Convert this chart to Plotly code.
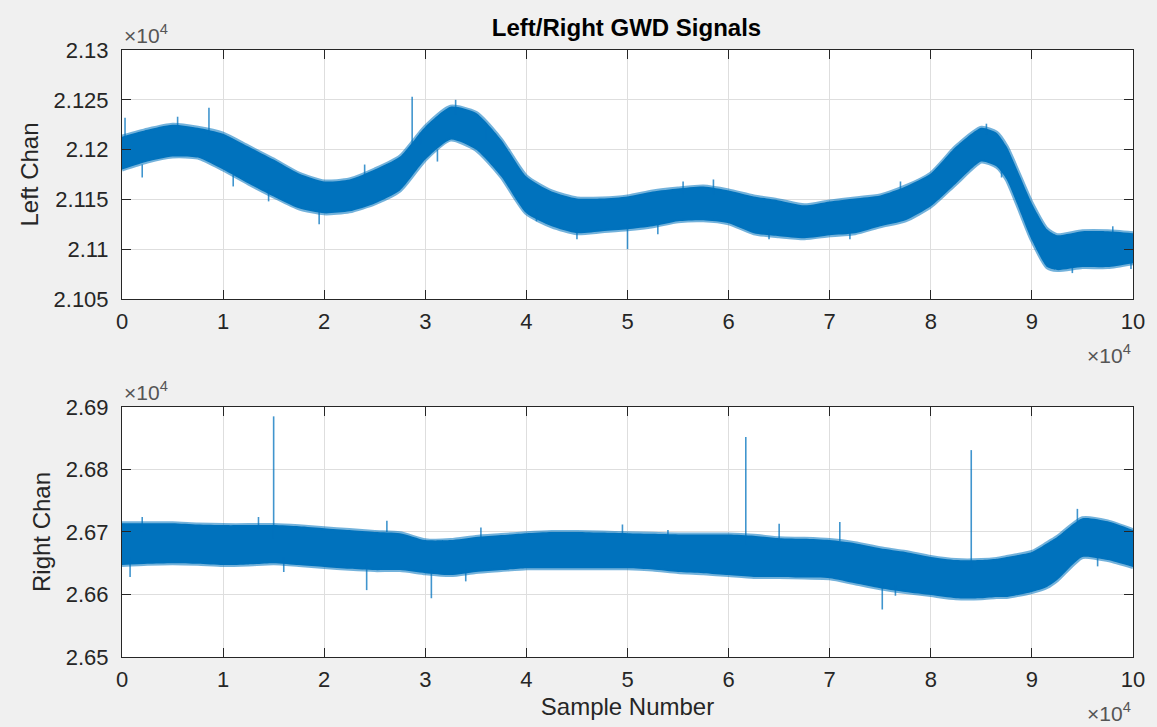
import plotly.graph_objects as go

# ---------------- data (values in units of 1e4) ----------------
sample_x = [0, 0.25, 0.5, 0.75, 1.0, 1.25, 1.5, 1.75, 2.0, 2.25, 2.5, 2.75, 3.0, 3.25, 3.5,
            3.75, 4.0, 4.25, 4.5, 4.75, 5.0, 5.25, 5.5, 5.75, 6.0, 6.25, 6.5, 6.75, 7.0,
            7.25, 7.5, 7.75, 8.0, 8.25, 8.5, 8.65, 8.75, 9.0, 9.15, 9.25, 9.5, 9.75, 10.0]

left_upper = [2.1213, 2.1220, 2.1225, 2.1222, 2.1216, 2.1203, 2.1190, 2.1176, 2.1168, 2.1170,
              2.1180, 2.1193, 2.1223, 2.1243, 2.1237, 2.1210, 2.1173, 2.1158, 2.1151, 2.1151,
              2.1153, 2.1158, 2.1161, 2.1163, 2.1159, 2.1153, 2.1149, 2.1144, 2.1148, 2.1151,
              2.1154, 2.1163, 2.1176, 2.1203, 2.1222, 2.1217, 2.1203, 2.1146, 2.1120, 2.1114,
              2.1118, 2.1118, 2.1116]
left_lower = [2.1180, 2.1188, 2.1193, 2.1192, 2.1180, 2.1166, 2.1153, 2.1141, 2.1136, 2.1138,
              2.1146, 2.1159, 2.1190, 2.1210, 2.1200, 2.1173, 2.1136, 2.1123, 2.1116, 2.1118,
              2.1120, 2.1123, 2.1128, 2.1129, 2.1126, 2.1116, 2.1113, 2.1111, 2.1114, 2.1116,
              2.1123, 2.1129, 2.1143, 2.1166, 2.1188, 2.1183, 2.1170, 2.1109, 2.1082, 2.1079,
              2.1082, 2.1082, 2.1086]

right_upper = [2.6714, 2.6714, 2.6714, 2.6712, 2.6711, 2.6711, 2.6711, 2.6709, 2.6706, 2.6703,
               2.6700, 2.6698, 2.6687, 2.6687, 2.6692, 2.6695, 2.6698, 2.6700, 2.6700, 2.6699,
               2.6698, 2.6697, 2.6696, 2.6696, 2.6696, 2.6694, 2.6690, 2.6689, 2.6687, 2.6682,
               2.6674, 2.6668, 2.6660, 2.6655, 2.6655, 2.6657, 2.6660, 2.6668, 2.6682, 2.6692,
               2.6722, 2.6717, 2.6703]
right_lower = [2.6647, 2.6649, 2.6650, 2.6649, 2.6647, 2.6648, 2.6650, 2.6647, 2.6644, 2.6641,
               2.6639, 2.6639, 2.6634, 2.6631, 2.6636, 2.6639, 2.6642, 2.6642, 2.6642, 2.6642,
               2.6642, 2.6640, 2.6636, 2.6634, 2.6631, 2.6628, 2.6628, 2.6627, 2.6626, 2.6618,
               2.6610, 2.6604, 2.6599, 2.6594, 2.6594, 2.6596, 2.6596, 2.6604, 2.6612, 2.6623,
               2.6660, 2.6655, 2.6644]

# isolated spikes: x position, start value, end value
left_spike_x  = [0.03, 0.2, 0.55, 0.86, 1.1, 1.45, 1.95, 2.4, 2.87, 2.95, 3.12, 3.3, 3.6,
                 4.1, 4.5, 5.0, 5.3, 5.55, 5.85, 6.4, 7.2, 7.7, 8.55, 8.7, 9.4, 9.8, 9.98]
left_spike_y0 = [2.1210, 2.1185, 2.1220, 2.1215, 2.1175, 2.1160, 2.1140, 2.1170, 2.1205,
                 2.1205, 2.1200, 2.1235, 2.1210, 2.1140, 2.1120, 2.1125, 2.1125, 2.1155,
                 2.1155, 2.1120, 2.1120, 2.1160, 2.1215, 2.1180, 2.1085, 2.1110, 2.1090]
left_spike_y1 = [2.1232, 2.1172, 2.1233, 2.1242, 2.1163, 2.1148, 2.1125, 2.1185, 2.1253,
                 2.1217, 2.1188, 2.1250, 2.1222, 2.1128, 2.1110, 2.1100, 2.1115, 2.1168,
                 2.1170, 2.1110, 2.1110, 2.1168, 2.1226, 2.1172, 2.1076, 2.1123, 2.1080]

right_spike_x  = [0.08, 0.2, 1.35, 1.5, 1.6, 2.42, 2.62, 3.06, 3.4, 3.55, 4.95, 5.4, 6.17,
                  6.5, 7.1, 7.52, 7.65, 8.4, 9.45, 9.65]
right_spike_y0 = [2.6660, 2.6700, 2.6705, 2.6690, 2.6660, 2.6650, 2.6700, 2.6640, 2.6640,
                  2.6690, 2.6690, 2.6690, 2.6680, 2.6685, 2.6685, 2.6620, 2.6615, 2.6640,
                  2.6715, 2.6660]
right_spike_y1 = [2.6628, 2.6724, 2.6724, 2.6885, 2.6636, 2.6607, 2.6718, 2.6594, 2.6621,
                  2.6707, 2.6712, 2.6703, 2.6852, 2.6713, 2.6716, 2.6576, 2.6598, 2.6831,
                  2.6737, 2.6645]

x_ticks = [0, 1, 2, 3, 4, 5, 6, 7, 8, 9, 10]
left_ticks = [2.105, 2.11, 2.115, 2.12, 2.125, 2.13]
left_tick_labels = ["2.105", "2.11", "2.115", "2.12", "2.125", "2.13"]
right_ticks = [2.65, 2.66, 2.67, 2.68, 2.69]
right_tick_labels = ["2.65", "2.66", "2.67", "2.68", "2.69"]

title_text = "Left/Right GWD Signals"
left_label = "Left Chan"
right_label = "Right Chan"
x_label = "Sample Number"
exp_text = "×10<sup>4</sup>"

# ---------------- styling ----------------
BLUE = "rgb(0,114,189)"
EDGE = "rgba(0,114,189,0.55)"
SPIKE = "rgba(0,114,189,0.75)"
AX = "#262626"
GRID = "#dedede"
FONT = "Liberation Sans, Arial, Helvetica, sans-serif"


def spike_path(xs, y0s, y1s):
    px, py = [], []
    for x, a, b in zip(xs, y0s, y1s):
        px += [x, x, None]
        py += [a, b, None]
    return px, py


fig = go.Figure()

for lo, hi, sx, s0, s1, ax in [
    (left_lower, left_upper, left_spike_x, left_spike_y0, left_spike_y1, "1"),
    (right_lower, right_upper, right_spike_x, right_spike_y0, right_spike_y1, "2"),
]:
    xa = "x" if ax == "1" else "x2"
    ya = "y" if ax == "1" else "y2"
    fig.add_trace(go.Scatter(x=sample_x, y=lo, mode="lines",
                             line=dict(color=EDGE, width=4, shape="spline", smoothing=0.6),
                             xaxis=xa, yaxis=ya, showlegend=False, hoverinfo="skip"))
    fig.add_trace(go.Scatter(x=sample_x, y=hi, mode="lines",
                             line=dict(color=EDGE, width=4, shape="spline", smoothing=0.6),
                             fill="tonexty", fillcolor=BLUE,
                             xaxis=xa, yaxis=ya, showlegend=False, hoverinfo="skip"))
    px, py = spike_path(sx, s0, s1)
    fig.add_trace(go.Scatter(x=px, y=py, mode="lines", line=dict(color=SPIKE, width=1.6),
                             xaxis=xa, yaxis=ya, showlegend=False, hoverinfo="skip", connectgaps=False))

common_axis = dict(
    showline=True, linecolor=AX, linewidth=1, mirror="ticks",
    ticks="inside", ticklen=9, tickcolor=AX, tickwidth=1,
    showgrid=True, gridcolor=GRID, gridwidth=1, zeroline=False,
    tickfont=dict(family=FONT, size=22, color=AX),
)

fig.update_layout(
    width=1157, height=727,
    margin=dict(l=122, r=24, t=50, b=70),
    paper_bgcolor="#f0f0f0", plot_bgcolor="#ffffff",
    font=dict(family=FONT, color=AX),
    xaxis=dict(domain=[0, 1], range=[0, 10], tickvals=x_ticks, ticktext=[str(v) for v in x_ticks],
               anchor="y", ticklabelstandoff=3, **common_axis),
    yaxis=dict(domain=[0.5898, 1], range=[2.105, 2.13], tickvals=left_ticks, ticktext=left_tick_labels,
               anchor="x", ticklabelstandoff=8,
               title=dict(text=left_label, font=dict(family=FONT, size=24, color=AX), standoff=8),
               **common_axis),
    xaxis2=dict(domain=[0, 1], range=[0, 10], tickvals=x_ticks, ticktext=[str(v) for v in x_ticks],
                anchor="y2", ticklabelstandoff=3,
                title=dict(text=x_label, font=dict(family=FONT, size=24, color=AX), standoff=6),
                **common_axis),
    yaxis2=dict(domain=[0, 0.4119], range=[2.65, 2.69], tickvals=right_ticks, ticktext=right_tick_labels,
                anchor="x2", ticklabelstandoff=8,
                title=dict(text=right_label, font=dict(family=FONT, size=24, color=AX), standoff=8),
                **common_axis),
    title=dict(text="<b>" + title_text + "</b>", x=0.5415, xanchor="center", y=0.962, yanchor="middle",
               font=dict(family=FONT, size=24, color="#000000")),
)

EXPC = "#555555"
for xpos, ypos, xanc, yanc in [
    (0.0, 1.0, "left", "bottom"),
    (1.0, 0.5898, "right", "top"),
    (0.0, 0.4119, "left", "bottom"),
    (1.0, 0.0, "right", "top"),
]:
    yshift = 1 if yanc == "bottom" else -40
    fig.add_annotation(text=exp_text, xref="paper", yref="paper", x=xpos, y=ypos, xanchor=xanc, yanchor=yanc,
                       showarrow=False, yshift=yshift, font=dict(family=FONT, size=21, color=EXPC))

fig.write_html("out.html")
